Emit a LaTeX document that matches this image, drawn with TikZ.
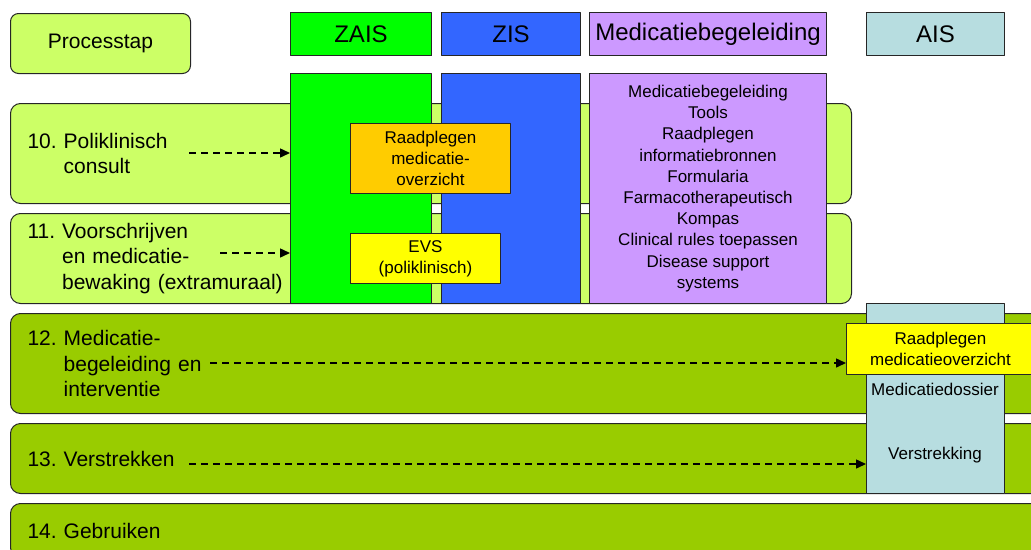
\documentclass[tikz,border=0pt]{standalone}
\usepackage{fontspec}
\setmainfont{Liberation Sans}
\usetikzlibrary{arrows.meta}
\definecolor{stepgreen}{HTML}{CCFF66}
\definecolor{rowgreen}{HTML}{99CC00}
\definecolor{zaisgreen}{HTML}{00FF00}
\definecolor{zisblue}{HTML}{3366FF}
\definecolor{medpurple}{HTML}{CC99FF}
\definecolor{aisblue}{HTML}{B7DDE0}
\definecolor{orangebox}{HTML}{FFCC00}
\definecolor{yellowbox}{HTML}{FFFF00}
\frenchspacing
\begin{document}
\begin{tikzpicture}[x=1pt,y=-1pt,line join=round,
  box/.style={draw=black!85,line width=1pt,anchor=north west,inner sep=0pt},
  hdr/.style={box,minimum height=43pt,font=\fontsize{24}{28}\selectfont},
  rowbox/.style={box,rounded corners=10pt,align=left,inner xsep=17pt,font=\fontsize{21}{25.5}\selectfont},
  small/.style={align=center,font=\fontsize{17}{21.2}\selectfont},
  flow/.style={line width=1.5pt,dash pattern=on 7pt off 5pt,-{Triangle[length=10pt,width=9pt]}}]
  \useasboundingbox (0,0) rectangle (1031,549);
  \clip (0,0) rectangle (1031,549);
  \node[box,fill=stepgreen,rounded corners=8pt,minimum width=180pt,minimum height=60pt,font=\fontsize{21}{25}\selectfont] (step) at (10,13) {Processtap};
  \node[hdr,fill=zaisgreen,minimum width=141pt] (zais) at (290,12) {ZAIS};
  \node[hdr,fill=zisblue,minimum width=139pt] (zis) at (441,12) {ZIS};
  \node[hdr,fill=medpurple,minimum width=237pt] (med) at (589,12) {Medicatiebegeleiding};
  \node[hdr,fill=aisblue,minimum width=138pt] (ais) at (866,12) {AIS};
  \node[rowbox,fill=stepgreen,text width=807pt,minimum height=100pt] (row10) at (10,103)
    {10. Poliklinisch\\\hphantom{10. }consult};
  \node[rowbox,fill=stepgreen,text width=807pt,minimum height=90pt] (row11) at (10,213)
    {11. Voorschrijven\\\hphantom{11. }en medicatie-\\\hphantom{11. }bewaking (extramuraal)};
  \node[box,fill=zaisgreen,minimum width=141pt,minimum height=230pt] (zaisbody) at (290,73) {};
  \node[box,fill=zisblue,minimum width=139pt,minimum height=230pt] (zisbody) at (441,73) {};
  \node[box,small,fill=medpurple,minimum width=237pt,minimum height=230pt] (medbody) at (589,73)
    {Medicatiebegeleiding\\Tools\\Raadplegen\\informatiebronnen\\Formularia\\Farmacotherapeutisch\\Kompas\\Clinical rules toepassen\\Disease support\\systems};
  \node[box,small,fill=orangebox,minimum width=160pt,minimum height=70pt] (raad1) at (350,123)
    {Raadplegen\\medicatie-\\overzicht};
  \node[box,small,fill=yellowbox,minimum width=150pt,minimum height=50pt] (evs) at (350,233)
    {EVS\\(poliklinisch)};
  \node[rowbox,fill=rowgreen,text width=1001pt,minimum height=100pt] (row12) at (10,313)
    {12. Medicatie-\\\hphantom{12. }begeleiding en\\\hphantom{12. }interventie};
  \node[rowbox,fill=rowgreen,text width=1001pt,minimum height=70pt] (row13) at (10,423)
    {13. Verstrekken};
  \node[rowbox,fill=rowgreen,text width=1001pt,minimum height=54pt] (row14) at (10,503)
    {14. Gebruiken};
  \node[box,fill=aisblue,minimum width=138pt,minimum height=190pt] (aisbody) at (866,303) {};
  \node[box,small,fill=yellowbox,minimum width=188pt,minimum height=51pt] (raad2) at (846,323)
    {Raadplegen\\medicatieoverzicht};
  \node[small,anchor=base] (dossier) at (935,395) {Medicatiedossier};
  \node[small,anchor=base] (verstr) at (935,459) {Verstrekking};
  \coordinate (s10) at (189,153);
  \coordinate (s11) at (220,253);
  \coordinate (s12) at (210,363);
  \coordinate (s13) at (189,464);
  \draw[flow] (s10) -- (s10 -| zaisbody.west);
  \draw[flow] (s11) -- (s11 -| zaisbody.west);
  \draw[flow] (s12) -- (s12 -| raad2.west);
  \draw[flow] (s13) -- (s13 -| aisbody.west);
\end{tikzpicture}
\end{document}
